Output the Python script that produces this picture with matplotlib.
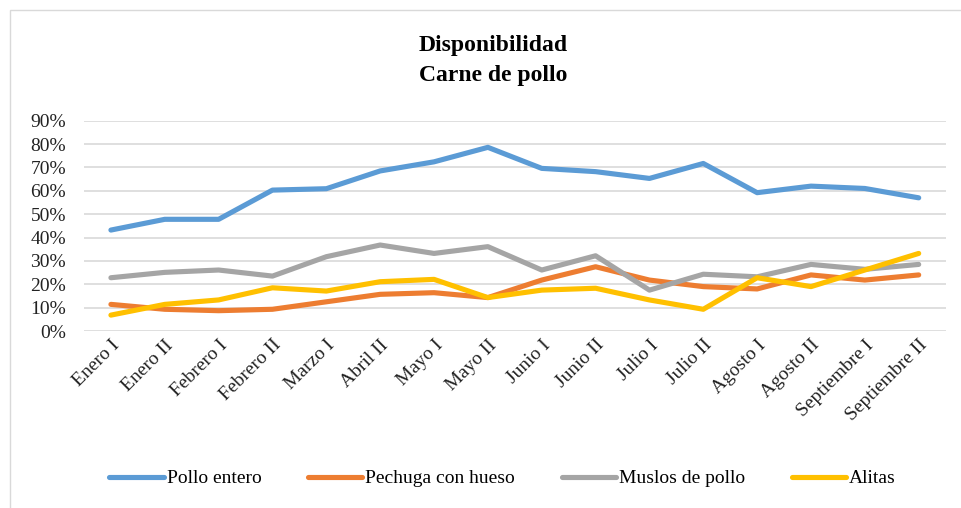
import matplotlib.pyplot as plt
import numpy as np
from matplotlib.patches import Rectangle
from matplotlib.ticker import PercentFormatter

periodos = ["Enero I", "Enero II", "Febrero I", "Febrero II", "Marzo I", "Abril II",
            "Mayo I", "Mayo II", "Junio I", "Junio II", "Julio I", "Julio II",
            "Agosto I", "Agosto II", "Septiembre I", "Septiembre II"]

pollo_entero = [43.2, 47.8, 47.8, 60.3, 60.9, 68.5, 72.4, 78.6,
                69.6, 68.2, 65.3, 71.7, 59.2, 62.0, 61.0, 57.0]
pechuga = [11.4, 9.3, 8.7, 9.3, 12.5, 15.7, 16.4, 14.3,
           21.8, 27.5, 21.8, 19.0, 18.0, 24.0, 21.8, 24.0]
muslos = [22.8, 25.1, 26.1, 23.5, 31.8, 36.8, 33.2, 36.1,
          26.1, 32.2, 17.5, 24.3, 23.2, 28.5, 26.4, 28.5]
alitas = [6.8, 11.4, 13.3, 18.5, 17.1, 21.1, 22.1, 14.3,
          17.5, 18.3, 13.3, 9.3, 22.8, 19.0, 26.1, 33.2]

series = [("Pollo entero", pollo_entero, "#5B9BD5"),
          ("Pechuga con hueso", pechuga, "#ED7D31"),
          ("Muslos de pollo", muslos, "#A5A5A5"),
          ("Alitas", alitas, "#FFC000")]

plt.rcParams['font.family'] = ['Liberation Serif', 'DejaVu Serif']

fig = plt.figure(figsize=(9.61, 5.08), dpi=100)
ax = fig.add_axes([0.0874, 0.3484, 0.8966, 0.414])

x = np.arange(len(periodos))
for name, vals, color in series:
    ax.plot(x, vals, color=color, linewidth=3.7, label=name,
            solid_capstyle='round', solid_joinstyle='round')

ax.set_xlim(-0.5, len(periodos) - 0.5)
ax.set_ylim(0, 90)
ax.set_yticks(np.arange(0, 91, 10))
ax.yaxis.set_major_formatter(PercentFormatter(decimals=0))
ax.grid(axis='y', color='#D9D9D9', linewidth=1.2)
ax.set_axisbelow(True)
for s in ax.spines.values():
    s.set_visible(False)
ax.tick_params(axis='both', length=0, labelsize=14, colors='#222222')
ax.tick_params(axis='y', pad=13)
ax.tick_params(axis='x', pad=4)
ax.set_xticks(x)
ax.set_xticklabels(periodos, rotation=45, ha='right', rotation_mode='anchor')

fig.text(0.513, 0.911, "Disponibilidad", ha='center', va='center',
         fontsize=17, fontweight='bold')
fig.text(0.513, 0.852, "Carne de pollo", ha='center', va='center',
         fontsize=17, fontweight='bold')

fig.legend(loc='center', bbox_to_anchor=(0.523, 0.058), ncol=4, frameon=False,
           fontsize=14, handlelength=2.8, handletextpad=0.15, columnspacing=2.4)

fig.patches.append(Rectangle((10 / 961, -0.05), 1.1, 1 - 10 / 508 + 0.05,
                             transform=fig.transFigure, fill=False,
                             edgecolor='#D9D9D9', linewidth=1.0))

fig.savefig("out.png", dpi=100)
plt.close(fig)
